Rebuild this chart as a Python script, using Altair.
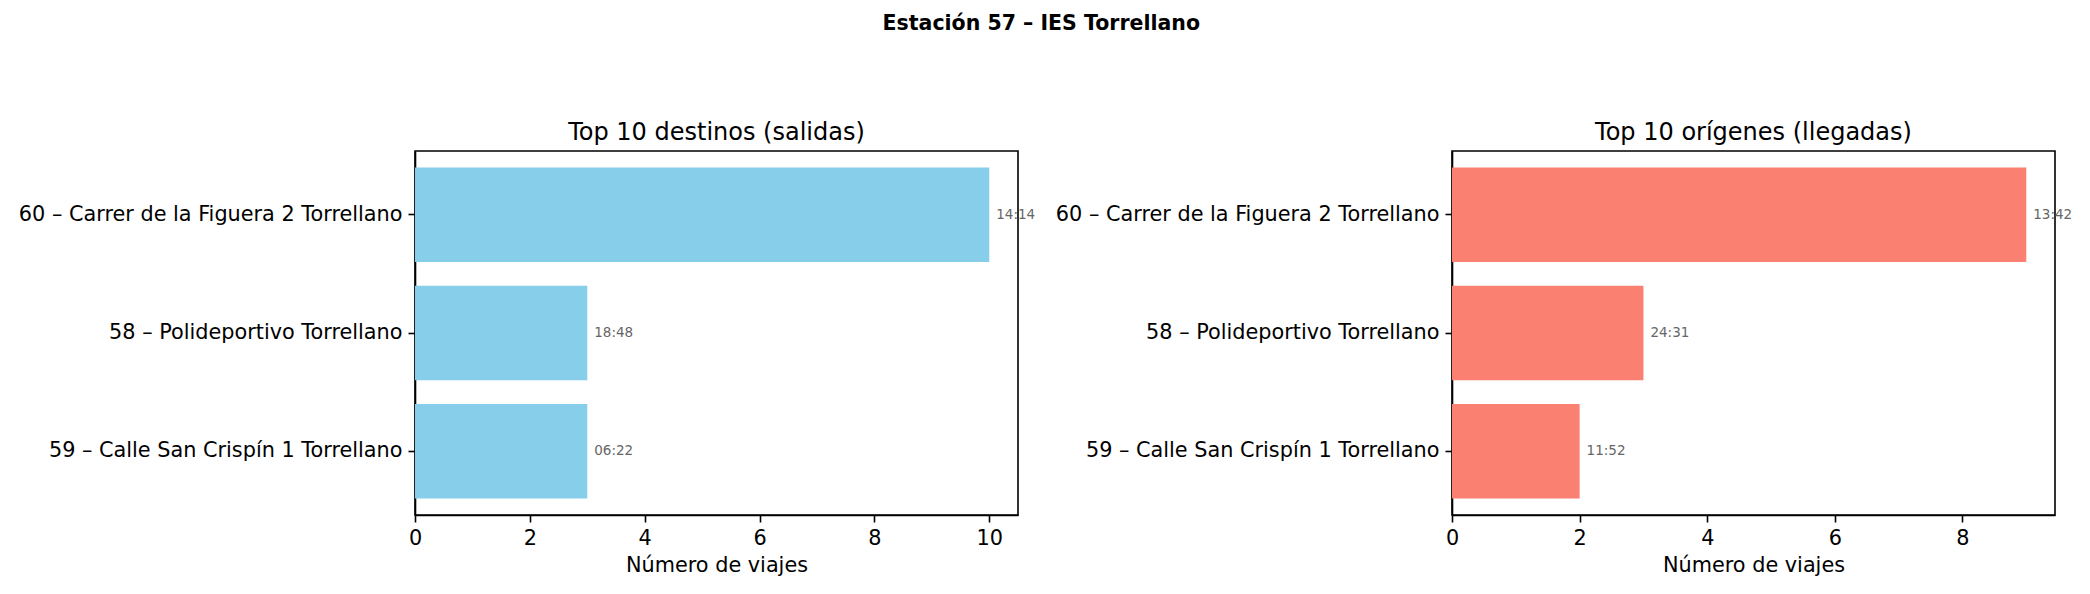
import altair as alt
import pandas as pd

stations = [
    "60 – Carrer de la Figuera 2 Torrellano",
    "58 – Polideportivo Torrellano",
    "59 – Calle San Crispín 1 Torrellano",
]
salidas_counts = [10, 3, 3]
salidas_times = ["14:14", "18:48", "06:22"]
llegadas_counts = [9, 3, 2]
llegadas_times = ["13:42", "24:31", "11:52"]

FONT = "DejaVu Sans"
W, H = 603, 364


def panel(counts, times, color, title, xmax, ticks):
    df = pd.DataFrame({"station": stations, "count": counts, "time": times})
    y = alt.Y(
        "station:N",
        sort=stations,
        scale=alt.Scale(paddingInner=0.2, paddingOuter=0.14),
        axis=alt.Axis(
            title=None,
            labelFontSize=20.8,
            labelFont=FONT,
            labelColor="black",
            labelLimit=600,
            labelPadding=6,
            tickSize=7,
            tickWidth=1.6,
            tickColor="black",
            domainColor="black",
            domainWidth=1.6,
        ),
    )
    x = alt.X(
        "count:Q",
        scale=alt.Scale(domain=[0, xmax], nice=False, zero=True),
        axis=alt.Axis(
            title="Número de viajes",
            values=ticks,
            format="d",
            grid=False,
            labelFlush=False,
            labelFontSize=20.8,
            labelFont=FONT,
            labelColor="black",
            labelPadding=6,
            tickSize=7,
            tickWidth=1.6,
            tickColor="black",
            domainColor="black",
            domainWidth=1.6,
            titleFont=FONT,
            titleFontSize=20.8,
            titleFontWeight="normal",
            titleColor="black",
            titlePadding=8,
        ),
    )
    bars = alt.Chart(df).mark_bar(color=color).encode(x=x, y=y)
    labels = alt.Chart(df).mark_text(
        align="left", baseline="middle", dx=7, fontSize=13.5, font=FONT, color="#666666"
    ).encode(x="count:Q", y=alt.Y("station:N", sort=stations), text="time:N")
    return alt.layer(bars, labels).properties(
        width=W,
        height=H,
        title=alt.TitleParams(
            text=title, fontSize=24, font=FONT, fontWeight="normal", color="black",
            anchor="middle", offset=6,
        ),
    )


left = panel(salidas_counts, salidas_times, "#87CEEB", "Top 10 destinos (salidas)", 10.5, [0, 2, 4, 6, 8, 10])
right = panel(llegadas_counts, llegadas_times, "#FA8072", "Top 10 orígenes (llegadas)", 9.45, [0, 2, 4, 6, 8])

chart = (
    alt.hconcat(left, right, spacing=18)
    .properties(
        title=alt.TitleParams(
            text="Estación 57 – IES Torrellano", fontSize=20.5, font=FONT, fontWeight="bold",
            color="black", anchor="middle", offset=86, dx=-4,
        ),
        padding={"left": 17, "top": 13, "right": 10, "bottom": 5},
        background="white",
    )
    .configure_view(stroke="black", strokeWidth=1.6)
    .configure_axis(grid=False)
)

chart.save("out.html", embed_options={"renderer": "svg", "actions": False})
